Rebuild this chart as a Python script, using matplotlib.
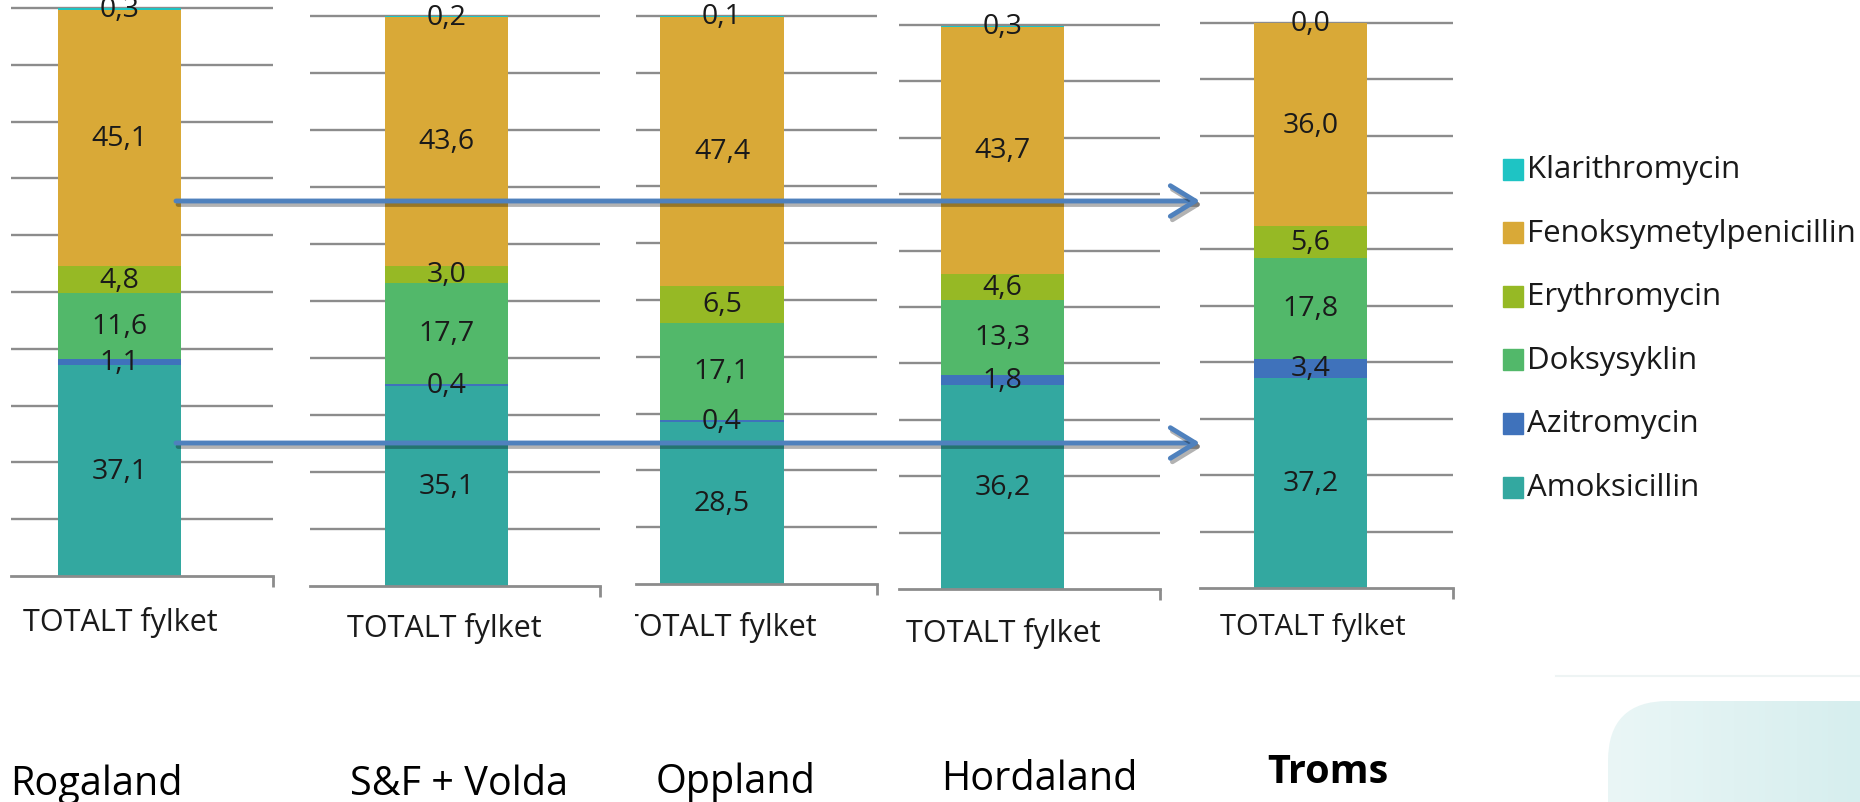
# --- SETUP ---
import numpy as np
import matplotlib
matplotlib.use("Agg")
import matplotlib.pyplot as plt
import matplotlib.patheffects as pe
from matplotlib.patches import Rectangle, FancyBboxPatch, FancyArrowPatch
from matplotlib.colors import LinearSegmentedColormap

plt.rcParams["font.family"] = ["Open Sans", "DejaVu Sans"]

# DATA (share of antibiotic use, percent)
regions = ["Rogaland", "S&F + Volda", "Oppland", "Hordaland", "Troms"]
category = "TOTALT fylket"
series = ["Amoksicillin", "Azitromycin", "Doksysyklin", "Erythromycin",
          "Fenoksymetylpenicillin", "Klarithromycin"]
amoksicillin = [37.1, 35.1, 28.5, 36.2, 37.2]
azitromycin = [1.1, 0.4, 0.4, 1.8, 3.4]
doksysyklin = [11.6, 17.7, 17.1, 13.3, 17.8]
erythromycin = [4.8, 3.0, 6.5, 4.6, 5.6]
fenoksymetylpenicillin = [45.1, 43.6, 47.4, 43.7, 36.0]
klarithromycin = [0.3, 0.2, 0.1, 0.3, 0.0]
stack = [amoksicillin, azitromycin, doksysyklin, erythromycin,
         fenoksymetylpenicillin, klarithromycin]
colors = ["#33a8a0", "#3f72bb", "#52b86a", "#96b925", "#d9a937", "#1ec4c4"]

# LAYOUT (pixels): grid left, grid right, top, bottom, bar left, bar right
W, H = 1860, 803
panels = [
    (11, 273, 9, 577, 58, 181),
    (310, 600, 17, 587, 385, 508),
    (636, 877, 17, 585, 660, 784),
    (899, 1160, 26, 590, 941, 1064),
    (1200, 1453, 24, 589, 1254, 1367),
]
cat_pos = [(23, 623), (347, 629), (622, 628), (906, 634), (1220, 628)]
cat_size = [22, 22, 22, 22, 21]
name_pos = [(10, 795), (350, 795), (656, 793), (941, 790), (1267, 783)]
grid_col = "#8c8c8c"

fig = plt.figure(figsize=(W / 100, H / 100), dpi=100)

# --- PANELS ---
for i, (gl, gr, top, bot, bl, br) in enumerate(panels):
    ax = fig.add_axes([gl / W, 1 - bot / H, (gr - gl) / W, (bot - top) / H])
    ax.set_xlim(gl, gr)
    ax.set_ylim(0, 100)
    ax.hlines(np.arange(10, 101, 10), gl, gr, color=grid_col, lw=1.7,
              zorder=0, clip_on=False)
    for side in ["top", "left", "right"]:
        ax.spines[side].set_visible(False)
    ax.spines["bottom"].set_color(grid_col)
    ax.spines["bottom"].set_linewidth(2)
    ax.set_yticks([])
    ax.set_xticks([gr])
    ax.tick_params(axis="x", length=8, width=2, color=grid_col, labelbottom=False)
    ax.patch.set_alpha(0)

    xc = (bl + br) / 2
    bottom = 0
    for s, vals in enumerate(stack):
        v = vals[i]
        ax.bar(xc, v, width=br - bl, bottom=bottom, color=colors[s], lw=0, zorder=2)
        ax.text(xc, bottom + v / 2, f"{v:.1f}".replace(".", ","), ha="center",
                va="center", fontsize=20.5, color="#1a1a1a", zorder=3, clip_on=False)
        bottom += v

# --- OVERLAY (labels, legend, arrows) ---
ov = fig.add_axes([0, 0, 1, 1], zorder=10)
ov.patch.set_alpha(0)
ov.axis("off")

for i, (x, y) in enumerate(cat_pos):
    t = ov.text(x, y, category, ha="left", va="center", fontsize=cat_size[i], color="#1a1a1a")
    if i == 2:
        # this one was cropped in the original screenshot
        t.set_clip_path(Rectangle((635, 590), 300, 80, transform=ov.transData))
        t.set_clip_on(True)

for i, (x, y) in enumerate(name_pos):
    ov.text(x, y, regions[i], ha="left", va="baseline", fontsize=28.5,
            fontweight="bold" if i == len(regions) - 1 else "normal", color="black")

# legend, top entry = last series
for j, s in enumerate(reversed(range(len(series)))):
    y = 170 + 63.6 * j
    ov.add_patch(Rectangle((1503, y - 10.5), 20, 21, color=colors[s]))
    ov.text(1527, y, series[s], ha="left", va="center", fontsize=22.5, color="#1a1a1a")

# arrows from Rogaland to Troms
for y in [202, 444]:
    arr = FancyArrowPatch((176, y), (1200, y), arrowstyle="->,head_length=1.8,head_width=1.1",
                          mutation_scale=10, lw=3.5, color="#4f81bd",
                          shrinkA=0, shrinkB=0,
                          path_effects=[pe.SimpleLineShadow(offset=(1.5, -2.5), alpha=0.3),
                                        pe.Normal()])
    ov.add_patch(arr)

# decoration bottom right
ov.plot([1556, 1860], [677, 677], color="#eef4f4", lw=1.5)
shape = FancyBboxPatch((1608, 702), 400, 200, boxstyle="round,pad=0,rounding_size=60",
                       fc="none", ec="none", transform=ov.transData)
ov.add_patch(shape)
grad = np.linspace(0, 1, 256).reshape(1, -1)
cmap = LinearSegmentedColormap.from_list("bg", ["#eaf6f6", "#d6eeee"])
im = ov.imshow(grad, extent=(1608, 1860, 803, 702), cmap=cmap, aspect="auto", zorder=0)
im.set_clip_path(shape)

ov.set_xlim(0, W)
ov.set_ylim(H, 0)

fig.savefig("out.png", dpi=100)
